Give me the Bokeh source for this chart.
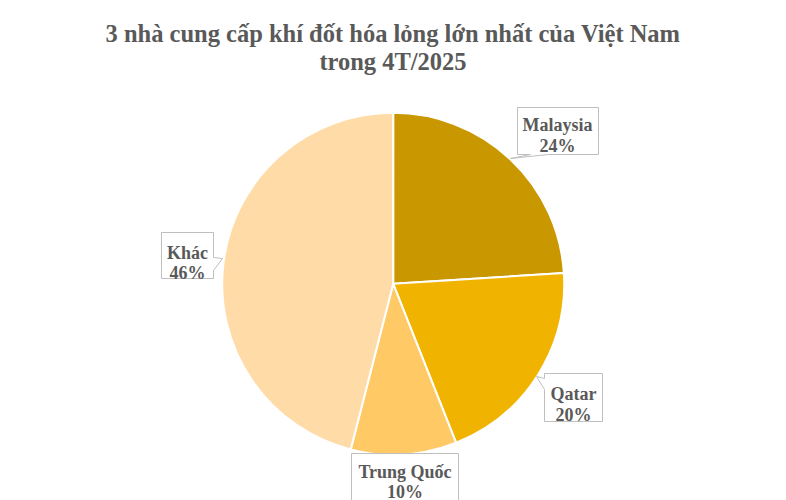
import math
from bokeh.plotting import figure
from bokeh.models import Range1d, ColumnDataSource
from bokeh.core.properties import value
from bokeh.embed import file_html
from bokeh.resources import INLINE

# ---- data ----
categories = ["Malaysia", "Qatar", "Trung Quốc", "Khác"]
shares = [24, 20, 10, 46]
colors = ["#C99700", "#F0B400", "#FFC966", "#FFDBA8"]
title_lines = ["3 nhà cung cấp khí đốt hóa lỏng lớn nhất của Việt Nam", "trong 4T/2025"]

# ---- layout (page pixel coords, y down) ----
W, H = 786, 500
def Y(py):
    return H - py

cx, cy, r = 392.7, 283.3, 171

boxes = {
    "Malaysia":   dict(l=517, t=107, rr=598, b=154, tx=557, b1=124, b2=145,
                       tail=("bottom", 548, 530, (510, 158))),
    "Qatar":      dict(l=544, t=373, rr=602, b=421, tx=573, b1=393, b2=414,
                       tail=("left", 389, 378, (536, 376))),
    "Trung Quốc": dict(l=351, t=453, rr=458, b=510, tx=404.5, b1=471, b2=491,
                       tail=None),
    "Khác":       dict(l=161, t=232, rr=213, b=278, tx=187, b1=252, b2=272,
                       tail=("right", 257, 270, (222, 258))),
}

p = figure(width=W, height=H, x_range=Range1d(0, W), y_range=Range1d(0, H),
           output_backend="svg", toolbar_location=None, min_border=0)
p.axis.visible = False
p.grid.visible = False
p.outline_line_color = None
p.background_fill_color = "white"
p.border_fill_color = "white"

# pie
total = float(sum(shares))
starts, ends = [], []
cum = 0.0
for s in shares:
    starts.append(math.pi / 2 - 2 * math.pi * cum / total)
    cum += s
    ends.append(math.pi / 2 - 2 * math.pi * cum / total)
src = ColumnDataSource(dict(cat=categories, share=shares, color=colors, start=starts, end=ends))
p.wedge(x=cx, y=Y(cy), radius=r, start_angle="start", end_angle="end", direction="clock",
        fill_color="color", line_color="white", line_width=2, source=src)

# callouts
for cat, sh in zip(categories, shares):
    bx = boxes[cat]
    l, t, rr, b = bx["l"], bx["t"], bx["rr"], bx["b"]
    pts = [(l, t), (rr, t)]
    tail = bx["tail"]
    if tail and tail[0] == "right":
        _, y1, y2, tip = tail
        pts += [(rr, y1), tip, (rr, y2)]
    pts += [(rr, b)]
    if tail and tail[0] == "bottom":
        _, x1, x2, tip = tail
        pts += [(x1, b), tip, (x2, b)]
    pts += [(l, b)]
    if tail and tail[0] == "left":
        _, y1, y2, tip = tail
        pts += [(l, y1), tip, (l, y2)]
    xs = [q[0] for q in pts]
    ys = [Y(q[1]) for q in pts]
    p.patch(xs, ys, fill_color="white", line_color="#BFBFBF", line_width=1)
    p.text(x=[bx["tx"], bx["tx"]], y=[Y(bx["b1"]), Y(bx["b2"])], text=[cat, f"{sh}%"],
           text_font=value("Liberation Serif"), text_font_style="bold", text_font_size="18px",
           text_color="#595959", text_align="center", text_baseline="alphabetic")

# title
p.text(x=[392.5, 392.5], y=[Y(33), Y(61)], text=title_lines,
       text_font=value("Liberation Serif"), text_font_style="bold", text_font_size="24.5px",
       text_color="#595959", text_align="center", text_baseline="alphabetic")

open("out.html", "w").write(file_html(p, INLINE))
